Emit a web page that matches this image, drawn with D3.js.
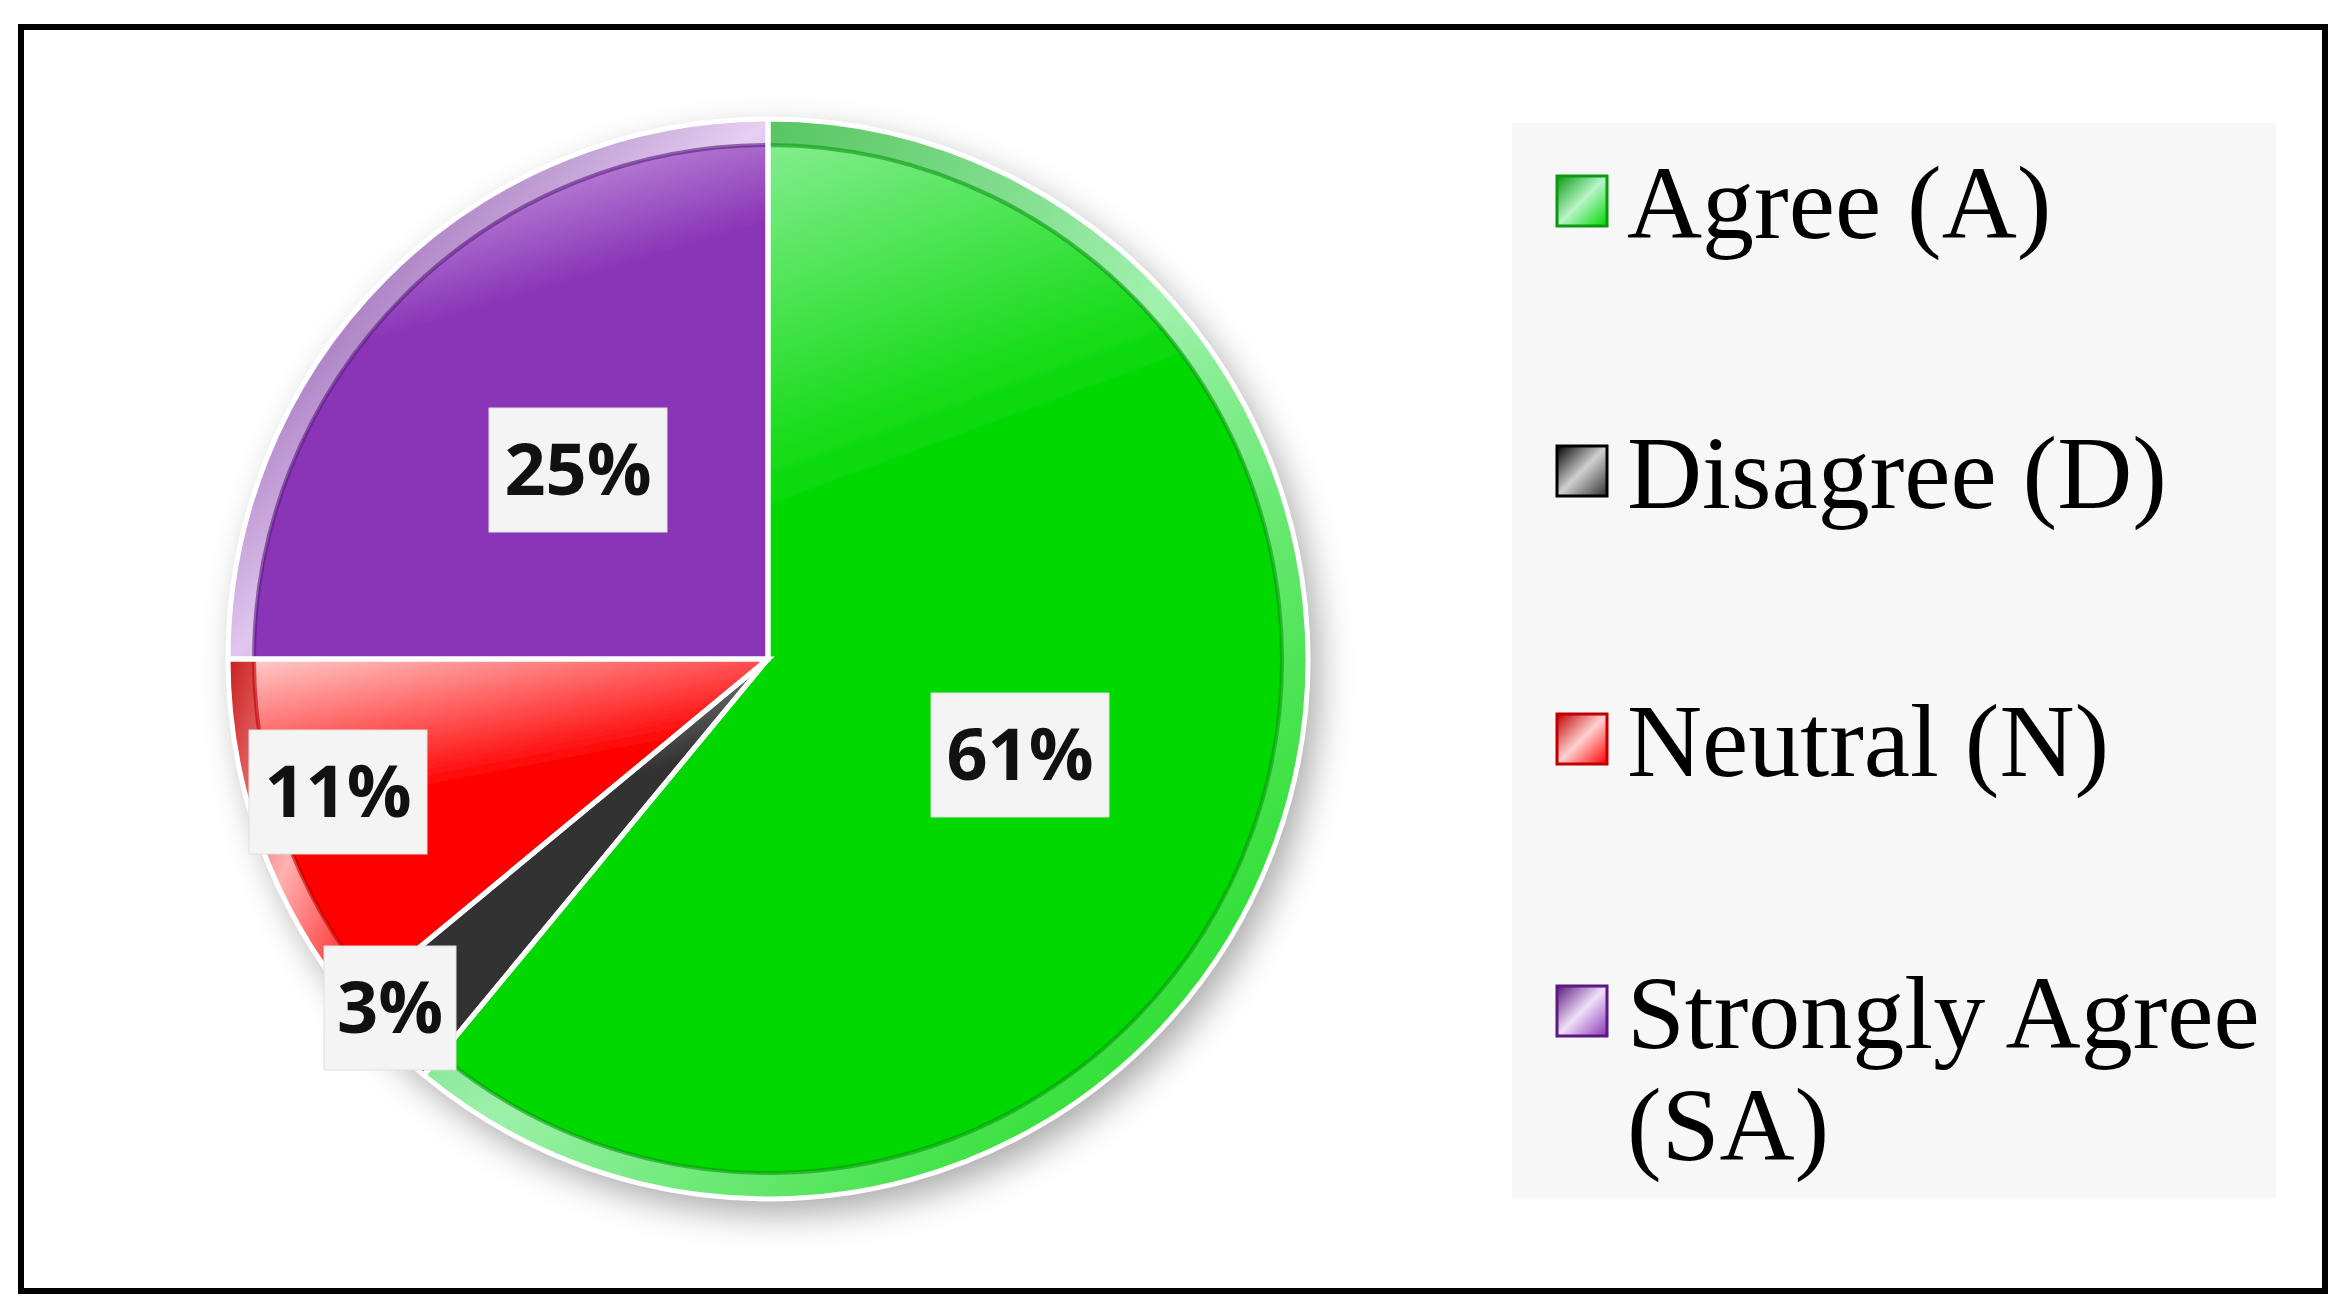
<!DOCTYPE html>
<html>
<head>
<meta charset="utf-8">
<script src="https://d3js.org/d3.v7.min.js"></script>
<style>
body { margin:0; background:#fff; }
</style>
</head>
<body>
<script>
// chart data
var categories = ["Agree (A)", "Disagree (D)", "Neutral (N)", "Strongly Agree (SA)"];
var values = [61, 3, 11, 25];
var labels = ["61%", "3%", "11%", "25%"];
var colors = ["#00d800", "#303030", "#ff0000", "#8a35b8"];
var lightColors = ["#b8f5c8", "#d0d0d0", "#ffd0d0", "#f0e0f8"];
var darkColors = ["#0a9a10", "#000000", "#c00000", "#5a1a80"];

var w = 2348, h = 1311;
var cx = 768, cy = 659, r = 540;

var svg = d3.select("body").append("svg").attr("width", w).attr("height", h);
var defs = svg.append("defs");

var f = defs.append("filter").attr("id", "shadow").attr("x", "-20%").attr("y", "-20%").attr("width", "140%").attr("height", "140%");
f.append("feGaussianBlur").attr("in", "SourceAlpha").attr("stdDeviation", 18);
f.append("feOffset").attr("dx", 10).attr("dy", 14).attr("result", "b");
f.append("feComponentTransfer").append("feFuncA").attr("type", "linear").attr("slope", 0.35);
var fm = f.append("feMerge");
fm.append("feMergeNode");
fm.append("feMergeNode").attr("in", "SourceGraphic");

colors.forEach(function(c, i) {
  var g = defs.append("linearGradient").attr("id", "g" + i)
    .attr("x1", "0").attr("y1", "0").attr("x2", "0.3").attr("y2", "1");
  g.append("stop").attr("offset", "0%").attr("stop-color", lightColors[i]);
  g.append("stop").attr("offset", "45%").attr("stop-color", c);
  g.append("stop").attr("offset", "100%").attr("stop-color", c);
  var m = defs.append("linearGradient").attr("id", "m" + i)
    .attr("x1", "0").attr("y1", "0").attr("x2", "1").attr("y2", "1");
  m.append("stop").attr("offset", "0%").attr("stop-color", darkColors[i]);
  m.append("stop").attr("offset", "50%").attr("stop-color", lightColors[i]);
  m.append("stop").attr("offset", "100%").attr("stop-color", c);
});

// frame
svg.append("rect").attr("x", 21).attr("y", 27).attr("width", 2304).attr("height", 1264)
  .attr("fill", "#fff").attr("stroke", "#000").attr("stroke-width", 6);

var pie = d3.pie().sort(null).value(function(d) { return d; });
var arcs = pie(values);
var outer = d3.arc().innerRadius(0).outerRadius(r);
var rim = d3.arc().innerRadius(r - 26).outerRadius(r);
var inner = d3.arc().innerRadius(0).outerRadius(r - 26);

var pg = svg.append("g").attr("transform", "translate(" + cx + "," + cy + ")");
pg.append("g").attr("filter", "url(#shadow)").selectAll("path").data(arcs).enter().append("path")
  .attr("d", outer).attr("fill", function(d, i) { return "url(#g" + i + ")"; });
pg.selectAll(".rim").data(arcs).enter().append("path")
  .attr("d", rim).attr("fill", function(d, i) { return "url(#m" + i + ")"; }).attr("opacity", 0.85);
pg.selectAll(".in").data(arcs).enter().append("path")
  .attr("d", inner).attr("fill", "none")
  .attr("stroke", function(d, i) { return darkColors[i]; }).attr("stroke-width", 4).attr("stroke-opacity", 0.6);
pg.selectAll(".edge").data(arcs).enter().append("path")
  .attr("d", outer).attr("fill", "none").attr("stroke", "#fff").attr("stroke-width", 5);

// data labels
var labelPos = [[1020, 755], [390, 1008], [338, 792], [578, 470]];
var lg = svg.selectAll(".lab").data(labels).enter().append("g")
  .attr("transform", function(d, i) { return "translate(" + labelPos[i][0] + "," + labelPos[i][1] + ")"; });
lg.append("rect").attr("x", function(d) { return -(d.length * 46 + 40) / 2; }).attr("y", -62)
  .attr("width", function(d) { return d.length * 46 + 40; }).attr("height", 124)
  .attr("fill", "#f4f4f4").attr("stroke", "#e0e0e0");
lg.append("text").text(function(d) { return d; }).attr("text-anchor", "middle").attr("dy", "0.35em")
  .attr("font-family", "Open Sans, Noto Sans, sans-serif").attr("font-weight", "bold")
  .attr("font-size", 72).attr("fill", "#111");

// legend
svg.append("rect").attr("x", 1512).attr("y", 123).attr("width", 764).attr("height", 1075).attr("fill", "#f7f7f7");
var legY = [202, 472, 740, 1012];
var leg = svg.selectAll(".leg").data(categories).enter().append("g")
  .attr("transform", function(d, i) { return "translate(1557," + legY[i] + ")"; });
leg.append("rect").attr("x", 0).attr("y", -26).attr("width", 50).attr("height", 50)
  .attr("fill", function(d, i) { return "url(#m" + i + ")"; }).attr("stroke", function(d, i) { return darkColors[i]; }).attr("stroke-width", 3);
leg.each(function(d, i) {
  var t = d3.select(this).append("text").attr("x", 70).attr("dy", "0.35em")
    .attr("font-family", "Liberation Serif, Times New Roman, serif").attr("font-size", 104).attr("fill", "#000");
  if (i === 3) {
    t.append("tspan").attr("x", 70).text("Strongly Agree");
    t.append("tspan").attr("x", 70).attr("dy", 112).text("(SA)");
  } else {
    t.text(d);
  }
});
</script>
</body>
</html>
